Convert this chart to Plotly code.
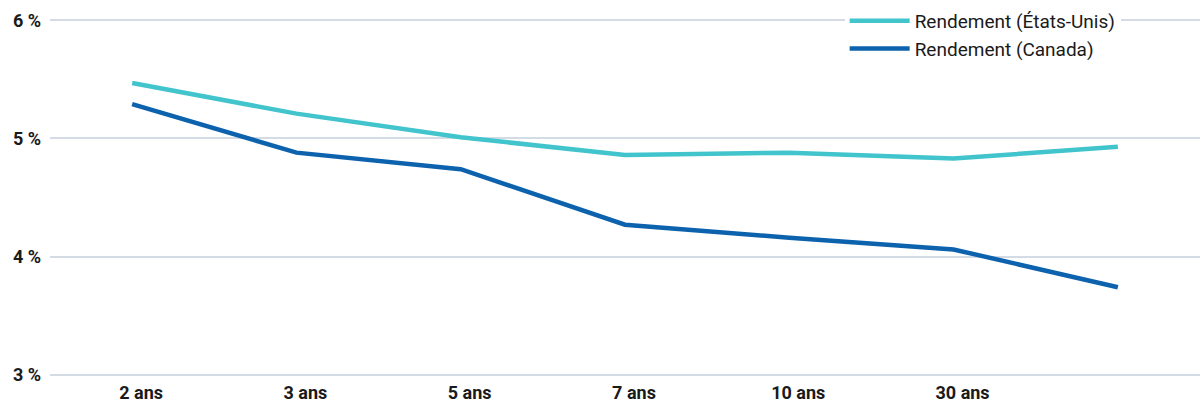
import plotly.graph_objects as go

categories = ["2 ans", "3 ans", "5 ans", "7 ans", "10 ans", "30 ans", ""]
us_yield = [5.47, 5.21, 5.01, 4.86, 4.88, 4.83, 4.93]
ca_yield = [5.29, 4.88, 4.74, 4.27, 4.16, 4.06, 3.74]
y_ticks = [3, 4, 5, 6]
y_tick_labels = ["3 %", "4 %", "5 %", "6 %"]

x = list(range(len(categories)))

fig = go.Figure()
fig.add_trace(go.Scatter(x=x, y=us_yield, mode="lines", name="Rendement (États-Unis)",
                         line=dict(color="#42C4CD", width=4.5)))
fig.add_trace(go.Scatter(x=x, y=ca_yield, mode="lines", name="Rendement (Canada)",
                         line=dict(color="#0D62AE", width=4.5)))

fig.update_layout(
    width=1200, height=409,
    margin=dict(l=50, r=0, t=18, b=32),
    paper_bgcolor="white", plot_bgcolor="white",
    font=dict(family="Roboto", size=17, color="#1a1a1a"),
    legend=dict(x=0.931, xanchor="right", y=1.045, yanchor="top",
                bgcolor="white", font=dict(size=19, color="#1a1a1a"),
                tracegroupgap=0, itemwidth=60),
    xaxis=dict(range=[-0.5, len(categories) - 0.5], tickmode="array", tickvals=x,
               ticktext=categories, showgrid=False, zeroline=False, showline=False,
               ticks="", tickfont=dict(size=18, family="Roboto", weight="bold"),
               ticklabelshift=9, ticklabelstandoff=3),
    yaxis=dict(range=[2.98, 6.02], tickmode="array", tickvals=y_ticks,
               ticktext=y_tick_labels, showgrid=True,
               gridcolor="#D3DCE4", gridwidth=1.5, zeroline=False, showline=False,
               ticks="", tickfont=dict(size=18, family="Roboto", weight="bold"),
               ticklabelstandoff=8),
    showlegend=True,
)

fig.write_html("out.html")
